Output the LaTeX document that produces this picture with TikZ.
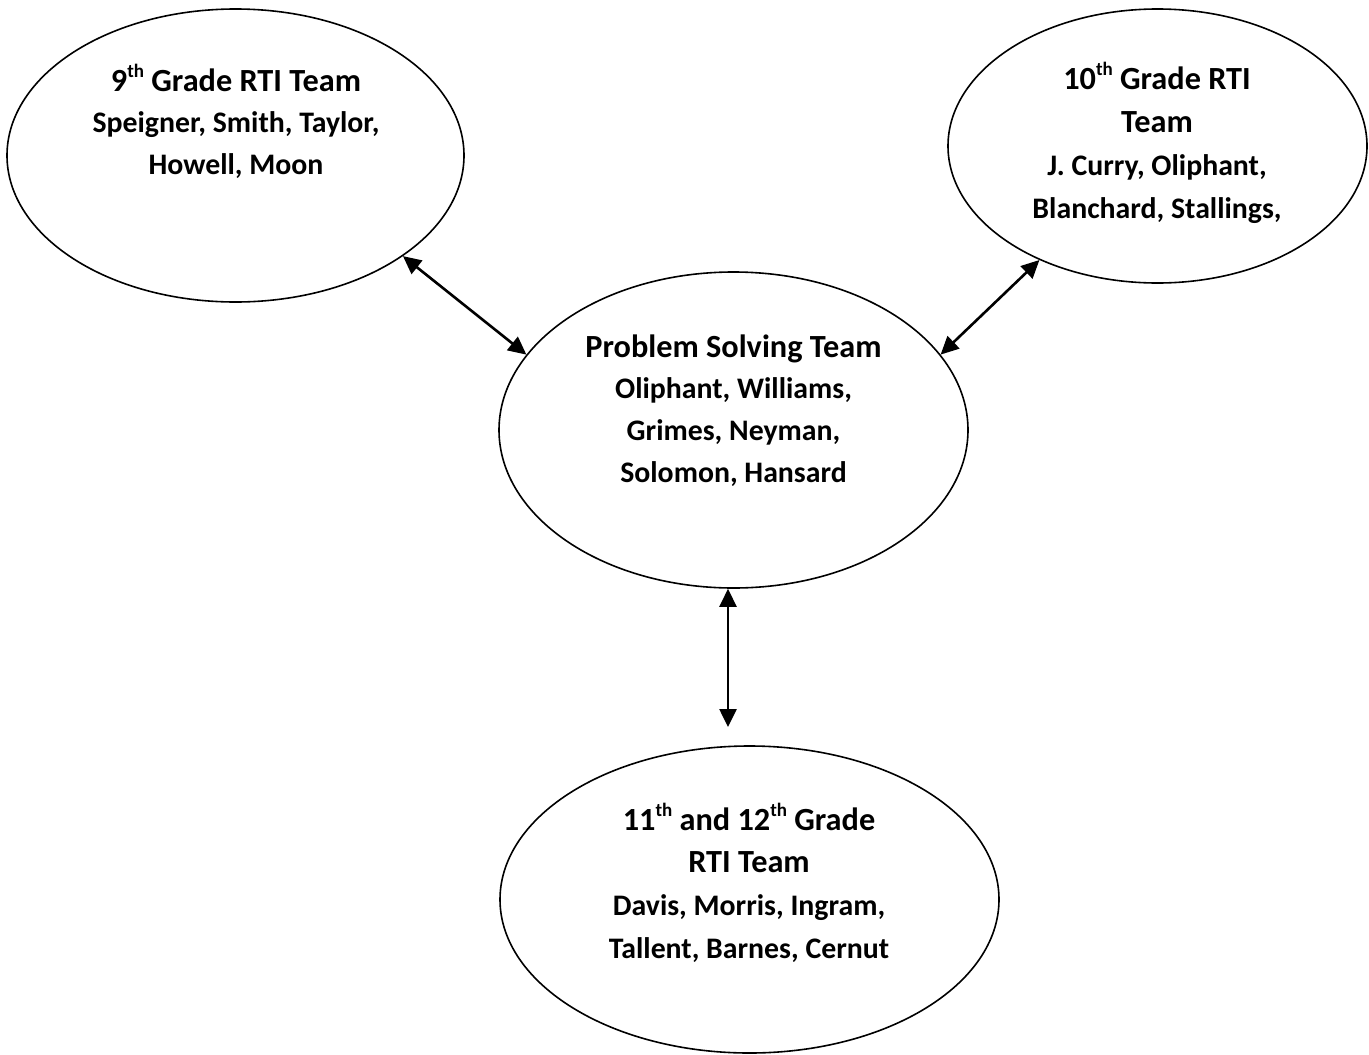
\documentclass[tikz,border=0pt]{standalone}
\usepackage{fontspec}
\setmainfont{Carlito}
\usetikzlibrary{shapes.geometric,arrows.meta}
\tikzset{
  team/.style={draw=black, line width=1.6pt, shape=ellipse, inner sep=0pt},
  label/.style={anchor=base, inner sep=0pt, font=\bfseries},
  link/.style={line width=2.6pt, {Triangle[length=18pt,width=17pt]}-{Triangle[length=18pt,width=17pt]}}
}
\newcommand{\teamtext}[3]{\parbox[t]{440pt}{\centering\fontsize{32.3}{#1}\selectfont #2\\\fontsize{29.8}{#1}\selectfont #3}}
\newcommand{\ordth}{\raisebox{14pt}{\fontsize{19}{19}\selectfont th}}
\begin{document}
\begin{tikzpicture}[x=1pt,y=-1pt]
\useasboundingbox[fill=white] (0,0) rectangle (1369,1055);
% ellipses
\node[team, minimum width=457pt, minimum height=293pt] (tl) at (235.5,155.5) {};
\node[team, minimum width=419pt, minimum height=274pt] (tr) at (1157.5,146) {};
\node[team, minimum width=469pt, minimum height=316pt] (c) at (733.5,430) {};
\node[team, minimum width=499pt, minimum height=307pt] (b) at (749.5,899.5) {};
% texts
\node[label] (tlt) at (236,91) {\teamtext{41.5}{9\ordth{} Grade RTI Team}{Speigner, Smith, Taylor,\\ Howell, Moon}};
\node[label] (trt) at (1157,89) {\teamtext{43}{10\ordth{} Grade RTI\\ Team}{J. Curry, Oliphant,\\ Blanchard, Stallings,}};
\node[label] (ct) at (733.5,357) {\teamtext{41.7}{Problem Solving Team}{Oliphant, Williams,\\ Grimes, Neyman,\\ Solomon, Hansard}};
\node[label] (bt) at (749,830) {\teamtext{42.7}{11\ordth{} and 12\ordth{} Grade\\ RTI Team}{Davis, Morris, Ingram,\\ Tallent, Barnes, Cernut}};
% connectors
\coordinate (bend) at (728,727);
\draw[link] (tl.-31) -- (c.160.5);
\draw[link] (tr.224.4) -- (c.20.1);
\draw[link] (c.south -| bend) -- (bend);
\end{tikzpicture}
\end{document}
